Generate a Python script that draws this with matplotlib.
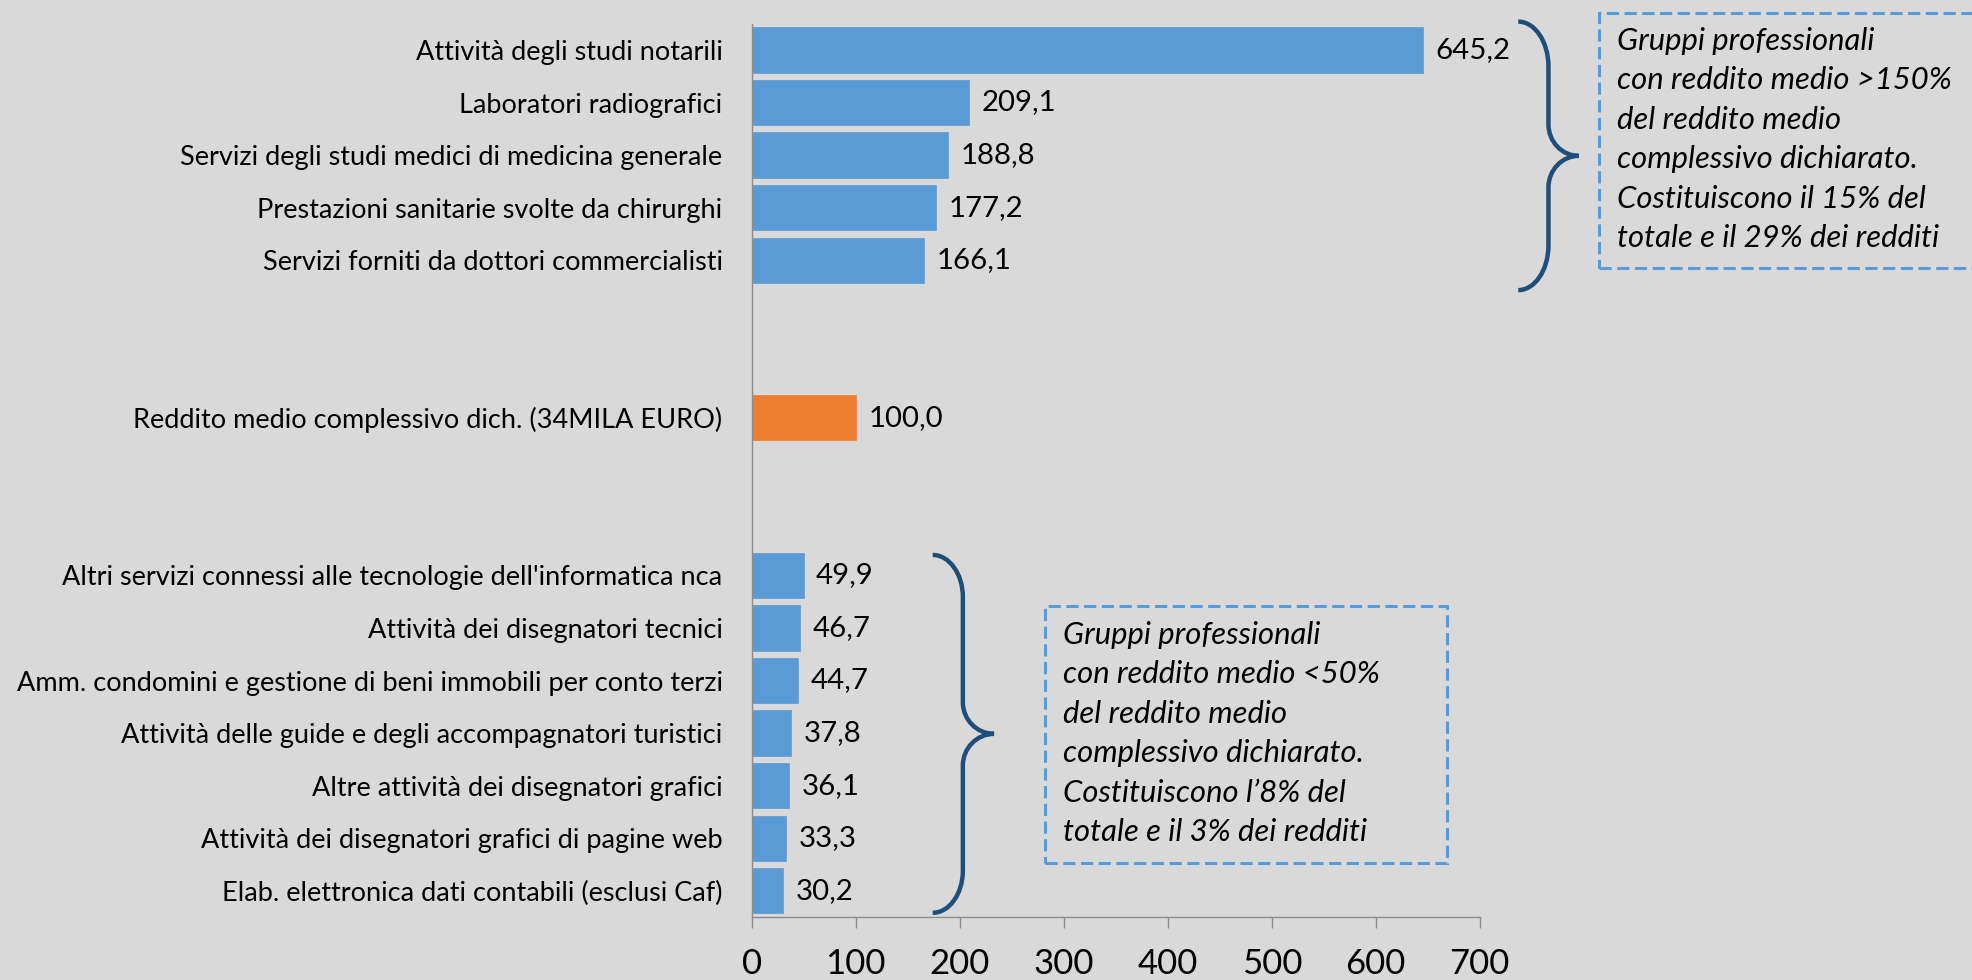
import matplotlib.pyplot as plt
import matplotlib.patches as mpatches
from matplotlib.path import Path
import numpy as np

plt.rcParams['font.family'] = ['Lato', 'DejaVu Sans']

# data (reddito medio, indice: reddito medio complessivo = 100)
top_labels = ['Attività degli studi notarili',
              'Laboratori radiografici',
              'Servizi degli studi medici di medicina generale',
              'Prestazioni sanitarie svolte da chirurghi',
              'Servizi forniti da dottori commercialisti']
top_values = [645.2, 209.1, 188.8, 177.2, 166.1]

avg_label = 'Reddito medio complessivo dich. (34MILA EURO)'
avg_value = 100.0

bottom_labels = ["Altri servizi connessi alle tecnologie dell'informatica nca",
                 'Attività dei disegnatori tecnici',
                 'Amm. condomini e gestione di beni immobili per conto terzi',
                 'Attività delle guide e degli accompagnatori turistici',
                 'Altre attività dei disegnatori grafici',
                 'Attività dei disegnatori grafici di pagine web',
                 'Elab. elettronica dati contabili (esclusi Caf)']
bottom_values = [49.9, 46.7, 44.7, 37.8, 36.1, 33.3, 30.2]

x_ticks = [0, 100, 200, 300, 400, 500, 600, 700]

note_top = ('Gruppi professionali\ncon reddito medio >150%\ndel reddito medio\n'
            'complessivo dichiarato.\nCostituiscono il 15% del\ntotale e il 29% dei redditi')
note_bottom = ('Gruppi professionali\ncon reddito medio <50%\ndel reddito medio\n'
               'complessivo dichiarato.\nCostituiscono l\u20198% del\ntotale e il 3% dei redditi')

BLUE = '#5B9BD5'
ORANGE = '#ED7D31'
DARK = '#1F4E79'
BG = '#D9D9D9'

# slot positions: two empty slots between groups
top_pos = np.arange(len(top_labels))
avg_pos = top_pos[-1] + 3
bottom_pos = avg_pos + 3 + np.arange(len(bottom_labels))

positions = list(top_pos) + [avg_pos] + list(bottom_pos)
labels = top_labels + [avg_label] + bottom_labels
values = top_values + [avg_value] + bottom_values
colors = [BLUE] * len(top_labels) + [ORANGE] + [BLUE] * len(bottom_labels)

fig = plt.figure(figsize=(19.72, 9.8), dpi=100, facecolor=BG)
ax = fig.add_axes([0.3812, 0.0643, 0.3692, 0.9115])
ax.set_facecolor(BG)

ax.barh(positions, values, height=0.86, color=colors, edgecolor=colors, linewidth=0.5)

# value labels with decimal comma
for p, v in zip(positions, values):
    ax.annotate(f'{v:.1f}'.replace('.', ','), (v, p), xytext=(9, 0),
                textcoords='offset points', va='center', ha='left', fontsize=21.2)

ax.set_ylim(positions[-1] + 0.5, -0.5)
ax.set_xlim(0, 700)
ax.set_yticks(positions)
ax.set_yticklabels(labels, fontsize=19.5)
ax.set_xticks(x_ticks)
ax.set_xticklabels([str(t) for t in x_ticks], fontsize=25)
ax.tick_params(axis='y', length=0, pad=21)
ax.tick_params(axis='x', length=8, width=1, color='#8C8C8C', pad=14)

for s in ['top', 'right']:
    ax.spines[s].set_visible(False)
for s in ['left', 'bottom']:
    ax.spines[s].set_color('#8C8C8C')
    ax.spines[s].set_linewidth(1)


def draw_brace(ax, x0, x1, x2, y_top, y_bot, r1, r2):
    ym = (y_top + y_bot) / 2
    verts = [(x0, y_top), (x0 + 0.55 * (x1 - x0), y_top), (x1, y_top + 0.45 * r1), (x1, y_top + r1),
             (x1, ym - r2),
             (x1, ym - 0.45 * r2), (x1 + 0.45 * (x2 - x1), ym), (x2, ym),
             (x1 + 0.45 * (x2 - x1), ym), (x1, ym + 0.45 * r2), (x1, ym + r2),
             (x1, y_bot - r1),
             (x1, y_bot - 0.45 * r1), (x0 + 0.55 * (x1 - x0), y_bot), (x0, y_bot)]
    codes = [Path.MOVETO, Path.CURVE4, Path.CURVE4, Path.CURVE4, Path.LINETO,
             Path.CURVE4, Path.CURVE4, Path.CURVE4, Path.CURVE4, Path.CURVE4, Path.CURVE4,
             Path.LINETO, Path.CURVE4, Path.CURVE4, Path.CURVE4]
    patch = mpatches.PathPatch(Path(verts, codes), facecolor='none', edgecolor=DARK,
                               lw=3.2, capstyle='butt', clip_on=False)
    ax.add_patch(patch)


# curly braces next to the two groups
draw_brace(ax, 737, 766, 795, top_pos[0] - 0.54, top_pos[-1] + 0.57, 0.85, 0.6)
draw_brace(ax, 174, 203, 233, bottom_pos[0] - 0.39, bottom_pos[-1] + 0.42, 0.8, 0.6)

# dashed note boxes
box_kw = dict(transform=fig.transFigure, facecolor='none', edgecolor=BLUE,
              lw=2.2, linestyle=(0, (4, 1.8)), clip_on=False)
fig.patches.append(mpatches.Rectangle((0.811, 0.7268), 0.2, 0.2596, **box_kw))
fig.patches.append(mpatches.Rectangle((0.530, 0.1197), 0.2037, 0.2619, **box_kw))

fig.text(0.8201, 0.8574, note_top, style='italic', fontsize=22.3, va='center', ha='left',
         linespacing=1.5)
fig.text(0.5392, 0.2517, note_bottom, style='italic', fontsize=22.3, va='center', ha='left',
         linespacing=1.5)

fig.savefig('out.png', dpi=100, facecolor=BG)
